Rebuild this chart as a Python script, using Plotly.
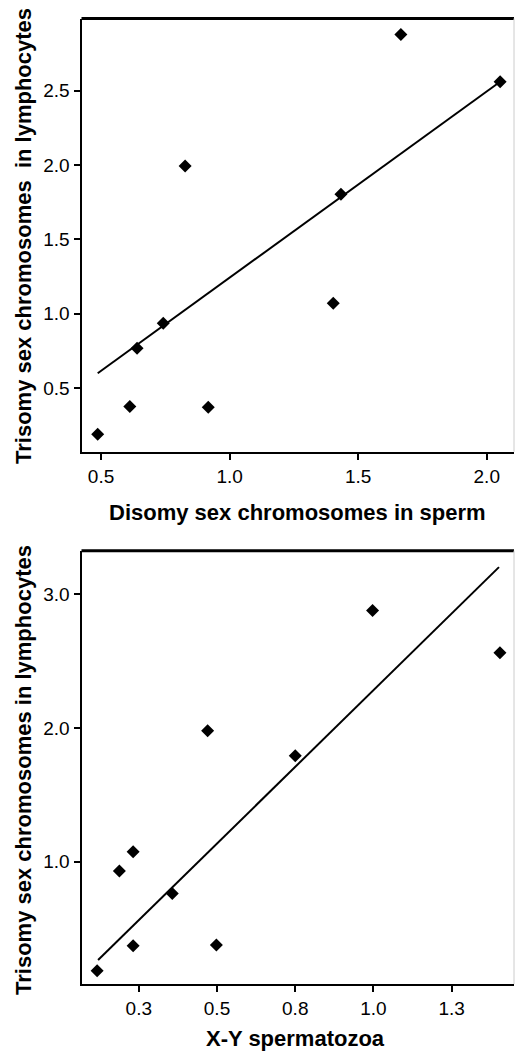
import plotly.graph_objects as go

# ---- data ----
lymph_trisomy = [0.19, 0.377, 0.768, 0.936, 0.372, 1.071, 1.803, 1.993, 2.878, 2.56]
sperm_disomy = [0.487, 0.612, 0.64, 0.742, 0.917, 1.403, 1.433, 0.827, 1.666, 2.052]

xy_sperm = [0.117, 0.232, 0.188, 0.357, 0.232, 0.498, 0.75, 0.47, 0.997, 1.404]
xy_lymph = [0.184, 0.371, 0.93, 0.763, 1.075, 0.376, 1.793, 1.98, 2.88, 2.564]

top_fit_x = [0.487, 2.052]
top_fit_y = [0.60, 2.56]
bot_fit_x = [0.12, 1.401]
bot_fit_y = [0.264, 3.204]

top_yticks = [0.5, 1.0, 1.5, 2.0, 2.5]
top_xticks = [0.5, 1.0, 1.5, 2.0]
bot_yticks = [1.0, 2.0, 3.0]
bot_xticks = [0.25, 0.5, 0.75, 1.0, 1.25]
bot_xticktext = ["0.3", "0.5", "0.8", "1.0", "1.3"]

W, H = 515, 1053
FONT = "Liberation Sans, Arial, sans-serif"


def px_x(p):
    return p / W


def px_y(p):
    return 1 - p / H


fig = go.Figure()

marker = dict(symbol="diamond", size=10, color="black", line=dict(width=0))

fig.add_trace(go.Scatter(x=sperm_disomy, y=lymph_trisomy, mode="markers",
                         marker=marker, xaxis="x", yaxis="y", showlegend=False))
fig.add_trace(go.Scatter(x=top_fit_x, y=top_fit_y, mode="lines",
                         line=dict(color="black", width=2), xaxis="x", yaxis="y",
                         showlegend=False))
fig.add_trace(go.Scatter(x=xy_sperm, y=xy_lymph, mode="markers",
                         marker=marker, xaxis="x2", yaxis="y2", showlegend=False))
fig.add_trace(go.Scatter(x=bot_fit_x, y=bot_fit_y, mode="lines",
                         line=dict(color="black", width=2), xaxis="x2", yaxis="y2",
                         showlegend=False))

tickfont = dict(family=FONT, size=19, color="black")
axis_common = dict(showgrid=False, zeroline=False, showline=True, linecolor="black",
                   linewidth=2, ticks="outside", ticklen=6, tickwidth=2,
                   tickcolor="black", tickfont=tickfont, mirror=False)

fig.update_layout(
    width=W, height=H,
    margin=dict(l=0, r=0, t=0, b=0),
    paper_bgcolor="white", plot_bgcolor="white",
    xaxis=dict(domain=[px_x(81.5), px_x(514)], range=[0.424, 2.106],
               tickvals=top_xticks, ticktext=[f"{v:.1f}" for v in top_xticks],
               anchor="y", **axis_common),
    yaxis=dict(domain=[px_y(451.7), px_y(18.5)], range=[0.073, 2.985],
               tickvals=top_yticks, ticktext=[f"{v:.1f}" for v in top_yticks],
               anchor="x", **axis_common),
    xaxis2=dict(domain=[px_x(81.5), px_x(514)], range=[0.067, 1.449],
                tickvals=bot_xticks, ticktext=bot_xticktext,
                anchor="y2", **axis_common),
    yaxis2=dict(domain=[px_y(984), px_y(550.7)], range=[0.085, 3.327],
                tickvals=bot_yticks, ticktext=[f"{v:.1f}" for v in bot_yticks],
                anchor="x2", **axis_common),
)

# top (thick) and right (light) frame borders
for xr, yr in (("x domain", "y domain"), ("x2 domain", "y2 domain")):
    fig.add_shape(type="line", xref=xr, yref=yr, x0=0, x1=1, y0=1, y1=1,
                  line=dict(color="black", width=3))
    fig.add_shape(type="line", xref=xr, yref=yr, x0=1, x1=1, y0=0, y1=1,
                  line=dict(color="#cccccc", width=1))

title_font = dict(family=FONT, size=22, color="black", weight="bold")

fig.add_annotation(text="Disomy sex chromosomes in sperm", xref="paper", yref="paper",
                   x=px_x(297), y=px_y(512), showarrow=False, font=title_font,
                   xanchor="center", yanchor="middle")
fig.add_annotation(text="X-Y spermatozoa", xref="paper", yref="paper",
                   x=px_x(296), y=px_y(1052), showarrow=False, font=title_font,
                   xanchor="center", yanchor="bottom", borderpad=0)
fig.add_annotation(text="Trisomy sex chromosomes&nbsp; in lymphocytes", xref="paper",
                   yref="paper", x=px_x(23), y=px_y(236), showarrow=False,
                   font=title_font, textangle=-90, xanchor="center", yanchor="middle")
fig.add_annotation(text="Trisomy sex chromosomes in lymphocytes", xref="paper",
                   yref="paper", x=px_x(23), y=px_y(770), showarrow=False,
                   font=title_font, textangle=-90, xanchor="center", yanchor="middle")

fig.write_html(
    "out.html",
    config={"displayModeBar": False},
    post_script="document.body.style.margin='0';document.body.style.overflow='hidden';",
)
